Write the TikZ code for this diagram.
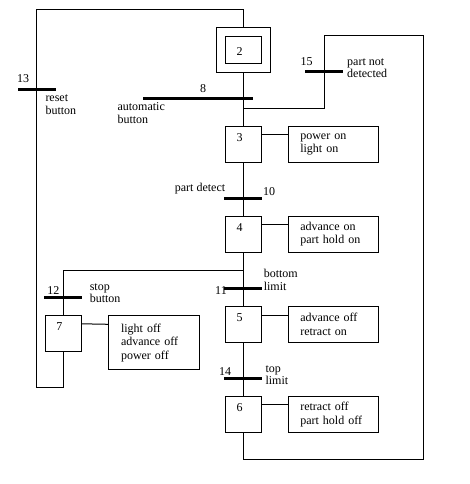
\documentclass[tikz,border=0pt]{standalone}
\usepackage{fontspec}
\setmainfont{Liberation Serif}
\begin{document}
\begin{tikzpicture}[x=1pt,y=-1pt,line width=1pt,
  stepbox/.style={draw,minimum width=36pt,minimum height=36pt,inner sep=0pt},
  actbox/.style={draw,minimum width=90pt,minimum height=36pt,inner xsep=12pt,inner ysep=0pt,
    text width=66pt,align=left,font=\fontsize{12}{13.5}\selectfont},
  bar/.style={fill=black,draw=none,inner sep=0pt,minimum height=3pt},
  lbl/.style={inner sep=0pt,align=left,font=\fontsize{12}{12.5}\selectfont},
  num/.style={inner sep=0pt,font=\fontsize{12}{14}\selectfont},
  stepnum/.style={label={[num,anchor=center,xshift=-4pt,yshift=-11.5pt]north:#1}}
]
\useasboundingbox (0,0) rectangle (469,484);

% steps
\node[draw,minimum width=54pt,minimum height=45pt,inner sep=0pt] (s2o) at (243.5,49.8) {};
\node[draw,minimum width=36pt,minimum height=27pt,inner sep=0pt,
  label={[num,anchor=center,xshift=-4pt,yshift=-1.5pt]center:2}] (s2) at (243.5,49.7) {};
\node[stepbox,stepnum=3] (s3) at (243.5,144.3) {};
\node[stepbox,stepnum=4] (s4) at (243.5,234.3) {};
\node[stepbox,stepnum=5] (s5) at (243.5,324.5) {};
\node[stepbox,stepnum=6] (s6) at (243.5,414.3) {};
\node[stepbox,stepnum=7] (s7) at (63.3,333.3) {};

% actions
\node[actbox] (a3) at (333.3,144.3) {power on\\light on};
\node[actbox] (a4) at (333.3,234.3) {advance on\\part hold on};
\node[actbox] (a5) at (333.3,324.5) {advance off\\retract on};
\node[actbox] (a6) at (333.3,414.3) {retract off\\part hold off};
\node[actbox,minimum width=90.4pt,minimum height=54pt,anchor=north west] (a7) at (108.3,315.3) {light off\\advance off\\power off};

% transitions
\node[bar,minimum width=38pt] (t13) at (36.5,90) {};
\node[bar,minimum width=109.7pt] (t8) at (197.9,99) {};
\node[bar,minimum width=37.7pt] (t15) at (324.3,71.7) {};
\node[bar,minimum width=37.7pt] (t10) at (243,198.3) {};
\node[bar,minimum width=37.7pt] (t11) at (243,288) {};
\node[bar,minimum width=37.7pt] (t14) at (243,378.3) {};
\node[bar,minimum width=37.4pt] (t12) at (63,297) {};

% transition numbers
\node[num] (n13) at (23,79) {13};
\node[num] (n8) at (203,89) {8};
\node[num] (n15) at (306.7,62) {15};
\node[num] (n10) at (269,191.7) {10};
\node[num] (n11) at (221,290.7) {11};
\node[num] (n12) at (53.3,290.7) {12};
\node[num] (n14) at (225,371.7) {14};

% conditions
\node[lbl,anchor=west] (c13) at (45,104.5) {reset\\button};
\node[lbl,anchor=west] (c8) at (117,113) {automatic\\button};
\node[lbl,anchor=west] (c15) at (346.7,68) {part not\\detected};
\node[lbl,anchor=east] (c10) at (225.7,188.3) {part detect};
\node[lbl,anchor=west] (c11) at (263.3,280) {bottom\\limit};
\node[lbl,anchor=west] (c12) at (89.3,293.3) {stop\\button};
\node[lbl,anchor=west] (c14) at (265,375) {top\\limit};

% corner coordinates
\coordinate (j15) at (243.5,108.3);
\coordinate (b1) at (243.5,459);
\coordinate (b2) at (423.3,459);
\coordinate (b3) at (423.3,36);
\coordinate (b4) at (324.3,36);
\coordinate (b5) at (324.3,108.3);
\coordinate (l1) at (63.3,387.3);
\coordinate (l2) at (36.5,387.3);
\coordinate (l3) at (36.5,9.5);
\coordinate (l4) at (243.5,9.5);
\coordinate (j7) at (243.5,270);
\coordinate (j7l) at (63.3,270);

% main chain
\draw (s2o.south) -- (s3.north);
\draw (s3.south) -- (s4.north);
\draw (s4.south) -- (s5.north);
\draw (s5.south) -- (s6.north);
% loops
\draw (s6.south) -- (b1) -- (b2) -- (b3) -- (b4) -- (b5) -- (j15);
\draw (s7.south) -- (l1) -- (l2) -- (l3) -- (l4) -- (s2o.north);
\draw (j7) -- (j7l) -- (s7.north);

% action links
\draw ([yshift=-9pt]s3.north east) -- ([yshift=-9pt]a3.north west);
\draw ([yshift=-9pt]s4.north east) -- ([yshift=-9pt]a4.north west);
\draw ([yshift=-9pt]s5.north east) -- ([yshift=-9pt]a5.north west);
\draw ([yshift=-9pt]s6.north east) -- ([yshift=-9pt]a6.north west);
\draw ([yshift=-9pt]s7.north east) -- ([yshift=-9pt]a7.north west);
\end{tikzpicture}
\end{document}
